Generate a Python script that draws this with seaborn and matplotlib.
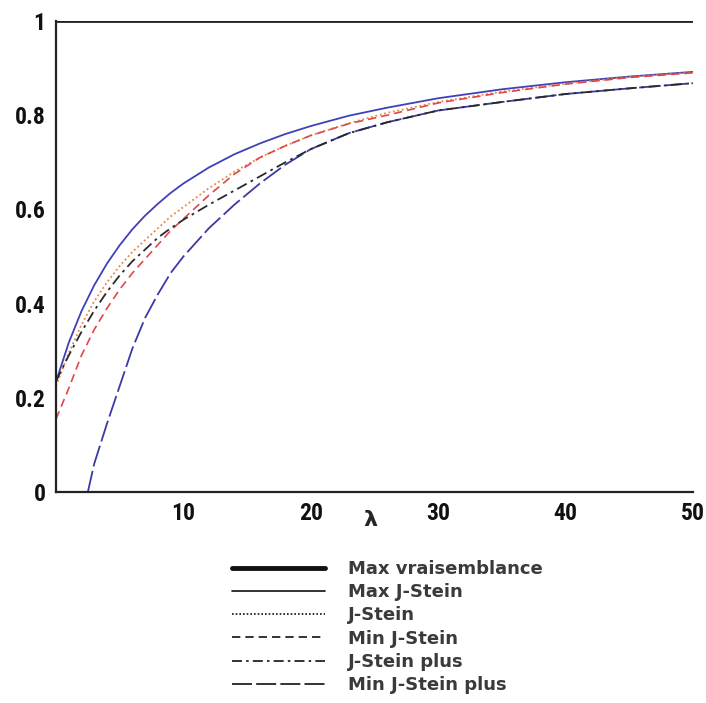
import numpy as np
import pandas as pd
import matplotlib
matplotlib.use("Agg")
import matplotlib.pyplot as plt
from matplotlib.lines import Line2D
from matplotlib import font_manager
import seaborn as sns

# ---- data ----
lam = [0, 1, 2, 3, 4, 5, 6, 7, 8, 9, 10, 12, 14, 16, 18, 20, 23, 26, 30, 35, 40, 45, 50]

max_vrais = [1.0] * len(lam)

max_jstein = [0.234, 0.317, 0.384, 0.439, 0.485, 0.524, 0.558, 0.587, 0.612, 0.635, 0.655,
              0.689, 0.717, 0.740, 0.760, 0.777, 0.799, 0.816, 0.836, 0.855, 0.870, 0.882, 0.892]

jstein = [0.225, 0.295, 0.355, 0.405, 0.445, 0.480, 0.510, 0.535, 0.560, 0.585, 0.605,
          0.645, 0.680, 0.710, 0.735, 0.757, 0.783, 0.805, 0.828, 0.850, 0.867, 0.881, 0.891]

min_jstein = [0.155, 0.220, 0.290, 0.345, 0.390, 0.430, 0.465, 0.495, 0.525, 0.555, 0.580,
              0.630, 0.675, 0.710, 0.735, 0.757, 0.782, 0.800, 0.826, 0.848, 0.866, 0.880, 0.890]

jstein_plus = [0.235, 0.290, 0.340, 0.385, 0.425, 0.460, 0.490, 0.515, 0.540, 0.560, 0.578,
               0.610, 0.640, 0.670, 0.700, 0.728, 0.762, 0.785, 0.810, 0.828, 0.845, 0.857, 0.868]

lam_mjp = [2.5, 3, 4, 5, 6, 7, 8, 9, 10, 12, 14, 16, 18, 20, 23, 26, 30, 35, 40, 45, 50]
min_jstein_plus = [0.0, 0.060, 0.145, 0.225, 0.305, 0.370, 0.420, 0.465, 0.500, 0.560, 0.610,
                   0.655, 0.695, 0.728, 0.762, 0.785, 0.810, 0.828, 0.845, 0.857, 0.868]

labels = ["Max vraisemblance", "Max J-Stein", "J-Stein", "Min J-Stein",
          "J-Stein plus", "Min J-Stein plus"]
x_ticks = [10, 20, 30, 40, 50]
y_ticks = [0, 0.2, 0.4, 0.6, 0.8, 1]
y_tick_labels = ["0", "0.2", "0.4", "0.6", "0.8", "1"]

# ---- styling ----
sns.set_style("white")

# pick a condensed bold face for the numbers if one is installed
names = {f.name for f in font_manager.fontManager.ttflist}
num_kw = dict(fontfamily=["DejaVu Sans"], fontweight="bold")
for cand in ["Liberation Sans Narrow", "Roboto Condensed", "Open Sans Condensed",
             "DejaVu Sans Condensed"]:
    if cand in names:
        num_kw = dict(fontfamily=[cand, "DejaVu Sans"], fontweight="bold")
        break
else:
    stretched = [f for f in font_manager.fontManager.ttflist
                 if f.name == "DejaVu Sans" and f.stretch in ("condensed", 300, "semi-condensed")]
    if stretched:
        num_kw = dict(fontfamily=["DejaVu Sans"], fontweight="bold", fontstretch="condensed")

fig = plt.figure(figsize=(7.06, 7.03), dpi=100)
ax = fig.add_axes([56 / 706, 1 - 492 / 703, (693 - 56) / 706, (492 - 21) / 703])

styles = {
    "Max vraisemblance": dict(color="#222222", lw=2.0, ls="-"),
    "Max J-Stein": dict(color="#4040b8", lw=1.3, ls="-"),
    "J-Stein": dict(color="#e08a40", lw=1.3, ls=(0, (1, 1.5))),
    "Min J-Stein": dict(color="#e04848", lw=1.2, ls=(0, (5, 3))),
    "J-Stein plus": dict(color="#2a2a2a", lw=1.3, ls=(0, (6, 2.5, 1.5, 2.5))),
    "Min J-Stein plus": dict(color="#3a3aa6", lw=1.3, ls=(0, (12, 2.5))),
}

series = [
    ("Max vraisemblance", lam, max_vrais),
    ("Max J-Stein", lam, max_jstein),
    ("J-Stein", lam, jstein),
    ("Min J-Stein", lam, min_jstein),
    ("Min J-Stein plus", lam_mjp, min_jstein_plus),
    ("J-Stein plus", lam, jstein_plus),
]
for name, xs, ys in series:
    st = styles[name]
    df = pd.DataFrame({"x": xs, "y": ys})
    sns.lineplot(data=df, x="x", y="y", ax=ax, color=st["color"], linewidth=st["lw"],
                 linestyle=st["ls"], legend=False, sort=True, estimator=None)

ax.set_xlim(0, 50)
ax.set_ylim(0, 1)
ax.set_xticks(x_ticks)
ax.set_xticks(np.arange(0, 51, 2), minor=True)
ax.set_yticks(y_ticks)
ax.set_yticks(np.arange(0, 1.001, 0.04), minor=True)
ax.set_xticklabels([str(t) for t in x_ticks], fontsize=17, **num_kw)
ax.set_yticklabels(y_tick_labels, fontsize=17, **num_kw)
ax.tick_params(axis="both", which="major", direction="out", length=4.5, width=1.5, color="#222222")
ax.tick_params(axis="both", which="minor", direction="out", length=2.5, width=1.2, color="#222222")
ax.tick_params(axis="x", which="major", pad=3)
ax.tick_params(axis="y", which="major", pad=3)
for lbl in ax.get_xticklabels():
    lbl.set_color("#111111")
for lbl in ax.get_yticklabels():
    lbl.set_color("#111111")

for s in ["top", "right"]:
    ax.spines[s].set_visible(False)
for s in ["left", "bottom"]:
    ax.spines[s].set_color("#222222")
    ax.spines[s].set_linewidth(1.6)

ax.set_xlabel("λ", fontfamily=["DejaVu Sans"], fontweight="bold", fontsize=16)
ax.xaxis.set_label_coords((370 - 56) / 637, (492 - 510) / 471)
ax.xaxis.label.set_verticalalignment("top")
ax.set_ylabel("")

# legend (Maple style: black samples)
leg_styles = [
    dict(lw=3.5, ls="-"),
    dict(lw=1.2, ls="-"),
    dict(lw=1.2, ls=(0, (1, 1.2))),
    dict(lw=1.2, ls=(0, (5, 3))),
    dict(lw=1.2, ls=(0, (6, 2.5, 1.5, 2.5))),
    dict(lw=1.2, ls=(0, (12, 2.5))),
]
handles = [Line2D([0], [0], color="#111111", linewidth=s["lw"], linestyle=s["ls"]) for s in leg_styles]
leg = fig.legend(handles, labels, loc="upper left", bbox_to_anchor=(232 / 706, 1 - 560 / 703),
                 frameon=False, borderpad=0, borderaxespad=0, handlelength=5.15,
                 handletextpad=1.27, labelspacing=0.29,
                 prop=dict(family=["DejaVu Sans"], weight="bold", size=13))
for t in leg.get_texts():
    t.set_color("#3a3a3a")

fig.savefig("out.png", dpi=100, facecolor="white")
